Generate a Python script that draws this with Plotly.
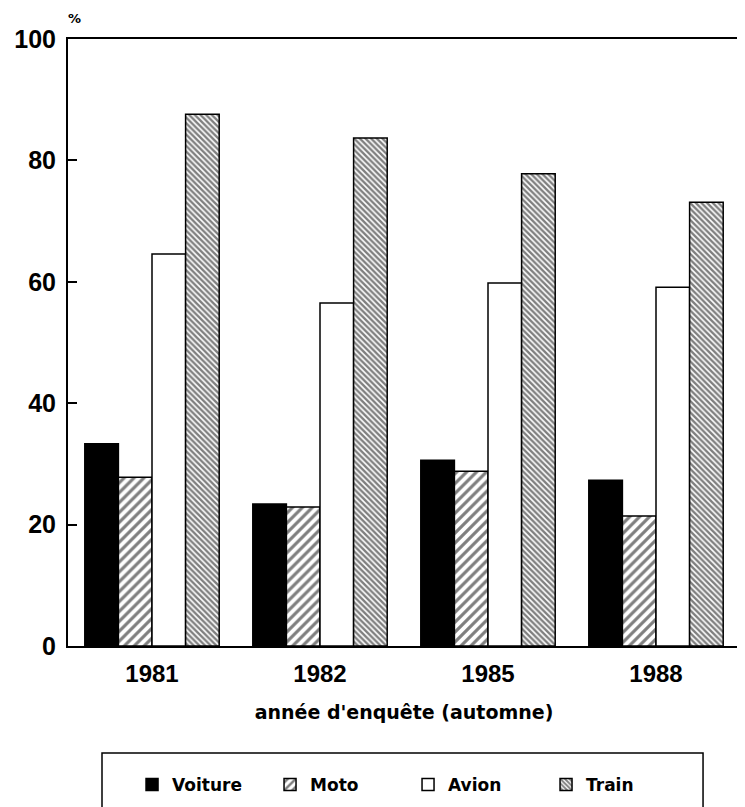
import plotly.graph_objects as go

years = ["1981", "1982", "1985", "1988"]
voiture = [33.3, 23.4, 30.6, 27.3]
moto = [27.8, 22.9, 28.8, 21.4]
avion = [64.6, 56.5, 59.8, 59.1]
train = [87.6, 83.7, 77.8, 73.1]
y_ticks = [0, 20, 40, 60, 80, 100]

FONT = "Liberation Sans"
TXT = "DejaVu Sans"

fig = go.Figure()
line = dict(color="black", width=1.5)
fig.add_bar(name="Voiture", x=years, y=voiture,
            marker=dict(color="black", line=line))
fig.add_bar(name="Moto", x=years, y=moto,
            marker=dict(color="white", line=line,
                        pattern=dict(shape="/", fgcolor="black", bgcolor="white",
                                     size=7, solidity=0.45)))
fig.add_bar(name="Avion", x=years, y=avion,
            marker=dict(color="white", line=line))
fig.add_bar(name="Train", x=years, y=train,
            marker=dict(color="white", line=line,
                        pattern=dict(shape="\\", fgcolor="black", bgcolor="white",
                                     size=4, solidity=0.6)))

fig.update_layout(
    width=737, height=799,
    margin=dict(l=60, r=5, t=31, b=161, autoexpand=False),
    paper_bgcolor="white", plot_bgcolor="white",
    barmode="group", bargap=0.2, bargroupgap=0,
    font=dict(family=FONT, color="black", weight="bold"),
    showlegend=True,
    legend=dict(orientation="h", x=0.506, xanchor="center", y=-0.229, yanchor="middle",
                font=dict(family=TXT, size=17, weight="bold"),
                bgcolor="rgba(0,0,0,0)", borderwidth=0, entrywidth=93),
)
fig.update_xaxes(
    automargin=False,
    showline=True, linecolor="black", linewidth=2, mirror=True,
    showgrid=False, ticks="", ticklabelstandoff=5,
    tickfont=dict(family=FONT, size=24, weight="bold"),
    title=dict(text="année d'enquête (automne)", standoff=20,
               font=dict(family=TXT, size=19, weight="bold")),
)
fig.update_yaxes(
    automargin=False,
    range=[0, 100], tickvals=y_ticks,
    showline=True, linecolor="black", linewidth=2, mirror=True,
    showgrid=False, zeroline=False, ticks="inside", ticklen=9, tickwidth=1.5,
    tickcolor="black", ticklabelstandoff=5,
    tickfont=dict(family=FONT, size=25, weight="bold"),
)
fig.add_annotation(text="%", xref="paper", yref="paper", x=-0.003, y=1.05,
                   showarrow=False, font=dict(family=TXT, size=13, weight="bold"))
fig.add_shape(type="rect", xref="paper", yref="paper",
              x0=0.0506, x1=0.945, y0=-0.1763, y1=-0.29,
              line=dict(color="black", width=1.5))
fig.write_html("out.html")
